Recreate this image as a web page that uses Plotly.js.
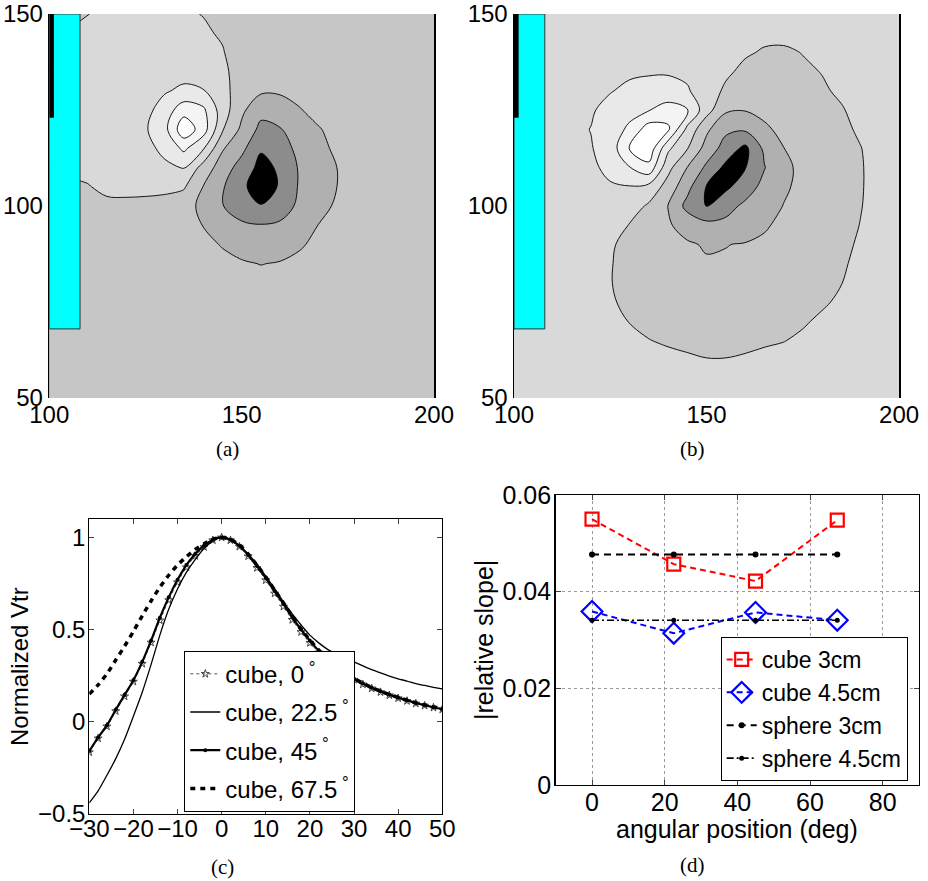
<!DOCTYPE html>
<html>
<head>
<meta charset="utf-8">
<script src="https://cdn.plot.ly/plotly-3.0.1.min.js"></script>
<style>html,body{margin:0;padding:0;background:#fff}#chart{width:928px;height:881px}</style>
</head>
<body>
<div id="chart"></div>
<script>
// ---------- Panels (a), (b): field maps on a 5-unit grid ----------
const gridX = [100,105,110,115,120,125,130,135,140,145,150,155,160,165,170,175,180,185,190,195,200];
const gridY = [50,55,60,65,70,75,80,85,90,95,100,105,110,115,120,125,130,135,140,145,150];

// level index per grid node (rows = gridY, cols = gridX)
const fieldA = [
 [0,0,0,0,0,0,0,0,0,0,0,0,0,0,0,0,0,0,0,0,0],
 [0,0,0,0,0,0,0,0,0,0,0,0,0,0,0,0,0,0,0,0,0],
 [0,0,0,0,0,0,0,0,0,0,0,0,0,0,0,0,0,0,0,0,0],
 [0,0,0,0,0,0,0,0,0,0,0,0,0,0,0,0,0,0,0,0,0],
 [0,0,0,0,0,0,0,0,0,0,0,0,0,0,0,0,0,0,0,0,0],
 [0,0,0,0,0,0,0,0,0,-0.05,-0.1,-0.1,-0.1,-0.05,0,0,0,0,0,0,0],
 [0,0,0,0,0,0,0,0,-0.05,-0.12,-0.2,-0.25,-0.2,-0.12,-0.05,0,0,0,0,0,0],
 [0,0.02,0.05,0.08,0.1,0.1,0.05,-0.05,-0.15,-0.3,-0.42,-0.52,-0.45,-0.3,-0.15,-0.05,0,0,0,0,0],
 [0.02,0.05,0.1,0.15,0.18,0.18,0.1,-0.05,-0.3,-0.55,-0.8,-0.9,-0.85,-0.6,-0.3,-0.1,-0.02,0,0,0,0],
 [0.05,0.1,0.12,0.22,0.25,0.25,0.12,-0.15,-0.52,-0.95,-1.3,-1.45,-1.35,-1.0,-0.48,-0.2,-0.05,0,0,0,0],
 [0.1,0.15,0.2,0.3,0.25,0.2,0.2,-0.1,-0.75,-1.45,-2.2,-2.45,-2.0,-1.3,-0.8,-0.35,-0.1,-0.02,0,0,0],
 [0.3,0.4,0.45,0.7,0.8,0.8,0.7,0.6,-0.52,-1.4,-2.3,-3.0,-2.4,-1.4,-0.9,-0.48,-0.15,-0.05,0,0,0],
 [0.5,0.6,0.75,0.9,1.0,1.1,1.3,1.55,0.1,-1.0,-1.9,-2.8,-2.35,-1.4,-0.9,-0.48,-0.2,-0.05,0,0,0],
 [0.55,0.65,0.8,0.95,1.1,1.2,1.75,2.7,1.6,-0.4,-1.25,-2.4,-2.0,-1.2,-0.7,-0.35,-0.15,-0.05,0,0,0],
 [0.55,0.65,0.85,0.95,1.15,1.4,2.2,4.2,3.0,0.6,-0.7,-1.75,-1.55,-1.0,-0.55,-0.25,-0.1,-0.02,0,0,0],
 [0.55,0.65,0.85,0.95,1.1,1.2,1.95,3.1,2.7,1.0,-0.3,-1.2,-1.05,-0.55,-0.25,-0.1,-0.02,0,0,0,0],
 [0.5,0.6,0.85,0.95,1.05,1.15,1.4,1.7,1.55,0.9,-0.1,-0.35,-0.35,-0.25,-0.15,-0.05,0,0,0,0,0],
 [0.5,0.6,0.8,0.9,1.0,1.05,1.1,1.15,1.05,0.7,0.1,-0.1,-0.15,-0.1,-0.05,0,0,0,0,0,0],
 [0.45,0.55,0.75,0.85,0.9,0.95,0.95,0.95,0.85,0.55,0.1,-0.05,-0.05,0,0,0,0,0,0,0,0],
 [0.4,0.52,0.65,0.75,0.8,0.85,0.8,0.75,0.6,0.42,0.05,0,0,0,0,0,0,0,0,0,0],
 [0.3,0.4,0.49,0.6,0.65,0.65,0.62,0.58,0.48,0.25,0.05,0,0,0,0,0,0,0,0,0,0]
];

const fieldB = [
 [1,1,1,1,1,1,1,1,1,1,1,1,1,1,1,1,1,1,1,1,1],
 [1,1,1,1,1,1,1,1,0.9,0.82,0.78,0.78,0.82,0.88,0.93,1,1,1,1,1,1],
 [1,1,1,1,1,1,0.95,0.85,0.7,0.6,0.52,0.52,0.58,0.68,0.8,0.9,0.95,1,1,1,1],
 [1,1,1,1,1,0.95,0.75,0.52,0.4,0.33,0.3,0.3,0.33,0.4,0.47,0.65,0.85,0.95,1,1,1],
 [1,1,1,1,0.95,0.75,0.47,0.3,0.2,0.12,0.1,0.1,0.1,0.15,0.25,0.4,0.65,0.85,0.95,1,1],
 [1,1,1,0.97,0.85,0.6,0.3,0.15,0.05,-0.05,-0.1,-0.1,-0.1,-0.05,0.05,0.2,0.38,0.65,0.88,0.97,1],
 [1,1,1,0.95,0.8,0.53,0.25,0.05,-0.1,-0.2,-0.25,-0.25,-0.25,-0.2,-0.1,0.05,0.25,0.48,0.8,0.95,1],
 [1,1,1,0.95,0.8,0.55,0.2,-0.05,-0.2,-0.35,-0.42,-0.42,-0.4,-0.32,-0.2,-0.05,0.15,0.38,0.72,0.92,0.98],
 [1,1,1,0.97,0.85,0.62,0.2,-0.1,-0.3,-0.4,-0.58,-0.52,-0.45,-0.35,-0.2,-0.05,0.1,0.32,0.6,0.88,0.97],
 [1,1,1,0.98,0.92,0.75,0.47,0.0,-0.4,-0.85,-1.2,-1.25,-1.0,-0.6,-0.3,-0.1,0.05,0.25,0.52,0.8,0.95],
 [1,1,1.05,1.1,1.2,1.25,1.0,0.35,-0.52,-1.8,-2.55,-1.85,-1.3,-0.85,-0.48,-0.2,0.0,0.2,0.47,0.78,0.95],
 [1,1.05,1.1,1.2,1.3,1.42,1.45,1.2,0.1,-1.2,-2.55,-2.7,-2.0,-1.2,-0.62,-0.3,-0.05,0.15,0.45,0.75,0.92],
 [1,1.05,1.15,1.3,1.35,1.7,2.45,3.2,0.8,-0.52,-1.7,-2.75,-2.55,-1.55,-0.7,-0.3,-0.1,0.12,0.45,0.75,0.92],
 [1,1.05,1.15,1.3,1.45,1.9,3.6,4.2,1.7,0.55,-0.9,-1.9,-2.75,-1.3,-0.52,-0.15,0.05,0.2,0.48,0.78,0.93],
 [1,1.05,1.15,1.3,1.52,1.95,2.7,4.0,3.7,1.25,-0.3,-1.3,-1.35,-0.7,-0.2,0.05,0.2,0.35,0.6,0.85,0.95],
 [1,1.05,1.1,1.25,1.4,1.8,2.15,2.45,2.9,2.55,0.9,-0.35,-0.45,-0.2,0.05,0.2,0.3,0.45,0.7,0.9,0.97],
 [1,1.02,1.05,1.15,1.3,1.45,1.7,1.85,1.9,1.6,0.95,0.35,0.1,0.1,0.2,0.3,0.42,0.6,0.85,0.95,1],
 [1,1,1.02,1.08,1.15,1.25,1.35,1.4,1.4,1.3,1.1,0.65,0.3,0.25,0.3,0.4,0.52,0.75,0.92,0.98,1],
 [1,1,1,1.03,1.07,1.1,1.12,1.15,1.15,1.1,1.05,0.9,0.6,0.42,0.4,0.52,0.7,0.9,0.98,1,1],
 [1,1,1,1,1.02,1.04,1.05,1.05,1.05,1.03,1,0.95,0.8,0.7,0.68,0.75,0.88,0.95,1,1,1],
 [1,1,1,1,1,1,1,1,1,1,1,1,0.95,0.9,0.9,0.92,0.97,1,1,1,1]
];

// coil (cyan block) and its black strip, in field coordinates
const coilX = [100, 108];
const coilY = [68, 150];
const stripX = [100, 101.2];
const stripY = [123, 150];

// ---------- Panel (c) ----------
const posC = [-30,-28,-26,-24,-22,-20,-18,-16,-14,-12,-10,-8,-6,-4,-2,0,2,4,6,8,10,12,14,16,18,20,22,24,26,28,30,32,34,36,38,40,42,44,46,48,50];
const cube0 = [-0.165,-0.09,-0.025,0.058,0.138,0.218,0.315,0.43,0.55,0.66,0.757,0.838,0.9,0.948,0.985,1.0,
  0.985,0.95,0.898,0.835,0.768,0.696,0.625,0.553,0.487,0.428,0.376,0.33,0.291,0.257,0.228,0.203,0.181,0.161,0.144,0.128,0.113,0.099,0.088,0.077,0.067];
const cube22 = [-0.44,-0.375,-0.29,-0.2,-0.095,0.03,0.16,0.31,0.47,0.61,0.72,0.81,0.88,0.94,0.98,1.0,
  0.988,0.955,0.91,0.855,0.79,0.722,0.65,0.585,0.525,0.47,0.428,0.393,0.367,0.345,0.325,0.303,0.283,0.265,0.248,0.233,0.221,0.207,0.197,0.187,0.178];
const cube45 = [-0.16,-0.085,-0.02,0.065,0.145,0.225,0.325,0.44,0.565,0.675,0.77,0.85,0.91,0.955,0.988,1.0,
  0.988,0.955,0.905,0.845,0.78,0.71,0.64,0.568,0.5,0.44,0.385,0.338,0.298,0.263,0.233,0.207,0.185,0.165,0.147,0.131,0.116,0.102,0.09,0.079,0.069];
const cube67 = [0.15,0.2,0.26,0.335,0.41,0.49,0.575,0.655,0.73,0.795,0.85,0.895,0.935,0.965,0.99,1.0,
  0.99,0.96,0.91,0.85,0.785,0.715,0.645,0.572,0.503,0.443,0.388,0.34,0.3,0.265,0.235,0.209,0.186,0.166,0.148,0.132,0.117,0.103,0.091,0.08,0.07];
const namesC = ['cube, 0', 'cube, 22.5', 'cube, 45', 'cube, 67.5'];

// ---------- Panel (d) ----------
const angles = [0, 22.5, 45, 67.5];
const cube3 = [0.0550, 0.0457, 0.0422, 0.0548];
const cube45cm = [0.0359, 0.0314, 0.0357, 0.0341];
const sphere3 = [0.0477, 0.0477, 0.0477, 0.0477];
const sphere45 = [0.0341, 0.0341, 0.0341, 0.0341];
const namesD = ['cube 3cm', 'cube 4.5cm', 'sphere 3cm', 'sphere 4.5cm'];

// ---------- styling ----------
const SANS = 'Liberation Sans, Arial, Helvetica, sans-serif';
const SERIF = 'Liberation Serif, DejaVu Serif, serif';
const grays = ['#000000','#8c8c8c','#b0b0b0','#c6c6c6','#d9d9d9','#e9e9e9','#f4f4f4','#ffffff'];
// stepwise scale: each band keeps one flat grey
const grayScale = [];
grays.forEach((c, k) => {
  grayScale.push([Math.max(0, (k - 0.25) / 7), c]);
  grayScale.push([Math.min(1, (k + 0.75) / 7), c]);
});

function fieldTrace(z, xa, ya) {
  return {
    type: 'contour', x: gridX, y: gridY, z: z, xaxis: xa, yaxis: ya,
    autocontour: false,
    contours: {start: -2.5, end: 3.5, size: 1, coloring: 'fill', showlines: true},
    line: {color: '#000', width: 0.9, smoothing: 1},
    colorscale: grayScale, showscale: false, hoverinfo: 'skip', showlegend: false
  };
}

const deg = '<sup> °</sup>';
const traces = [
  fieldTrace(fieldA, 'x', 'y'),
  fieldTrace(fieldB, 'x2', 'y2'),
  {type:'scatter', mode:'lines+markers', x: posC, y: cube0, xaxis:'x3', yaxis:'y3', name: namesC[0] + deg,
   legend:'legend', legendgroup:'g0',
   line:{color:'#555', width:1, dash:'dot', shape:'spline', smoothing:0.6},
   marker:{symbol:'star-open', size:6, color:'#444', line:{width:1}}},
  {type:'scatter', mode:'lines', x: posC, y: cube22, xaxis:'x3', yaxis:'y3', name: namesC[1] + deg,
   legend:'legend', legendgroup:'g1',
   line:{color:'#000', width:1.3, shape:'spline', smoothing:0.6}},
  {type:'scatter', mode:'lines+markers', x: posC, y: cube45, xaxis:'x3', yaxis:'y3', name: namesC[2] + deg,
   legend:'legend', legendgroup:'g2',
   line:{color:'#000', width:2.2, shape:'spline', smoothing:0.6},
   marker:{symbol:'circle', size:4, color:'#000'}},
  {type:'scatter', mode:'lines', x: posC, y: cube67, xaxis:'x3', yaxis:'y3', name: namesC[3] + deg,
   legend:'legend', legendgroup:'g3',
   line:{color:'#000', width:3.5, dash:'5px,5px', shape:'spline', smoothing:0.6}},

  {type:'scatter', mode:'lines+markers', x: angles, y: cube3, xaxis:'x4', yaxis:'y4', name: namesD[0], legend:'legend2',
   line:{color:'#ff0000', width:2, dash:'6px,4px'},
   marker:{symbol:'square-open', size:13, color:'#ff0000', line:{width:2.2}}},
  {type:'scatter', mode:'lines+markers', x: angles, y: cube45cm, xaxis:'x4', yaxis:'y4', name: namesD[1], legend:'legend2',
   line:{color:'#0000ff', width:2, dash:'6px,4px'},
   marker:{symbol:'diamond-open', size:16, color:'#0000ff', line:{width:2.2}}},
  {type:'scatter', mode:'lines+markers', x: angles, y: sphere3, xaxis:'x4', yaxis:'y4', name: namesD[2], legend:'legend2',
   line:{color:'#000', width:2, dash:'7px,5px'},
   marker:{symbol:'circle', size:6, color:'#000'}},
  {type:'scatter', mode:'lines+markers', x: angles, y: sphere45, xaxis:'x4', yaxis:'y4', name: namesD[3], legend:'legend2',
   line:{color:'#000', width:1.6, dash:'7px,3px,2px,3px'},
   marker:{symbol:'circle', size:5, color:'#000'}}
];

const tickFont = {family: SANS, size: 24, color: '#000'};
function mapX(dom, anchor) {
  return {domain: dom, anchor: anchor, range: [100, 200], tickvals: [100, 150, 200], ticks: '',
    showgrid: false, zeroline: false, showline: false, tickfont: tickFont, fixedrange: true};
}
function mapY(dom, anchor) {
  return {domain: dom, anchor: anchor, range: [50, 150], tickvals: [50, 100, 150], ticks: '',
    showgrid: false, zeroline: false, showline: true, mirror: true, linecolor: '#000', linewidth: 1.5,
    tickfont: tickFont, fixedrange: true};
}

function coilShapes(xr, yr) {
  return [
    {type:'rect', xref:xr, yref:yr, x0: coilX[0], x1: coilX[1], y0: coilY[0], y1: coilY[1],
     fillcolor:'#00ffff', line:{color:'#333', width:1}, layer:'above'},
    {type:'rect', xref:xr, yref:yr, x0: stripX[0], x1: stripX[1], y0: stripY[0], y1: stripY[1],
     fillcolor:'#000', line:{width:0}, layer:'above'}
  ];
}

const annFont = {family: SERIF, size: 21, color: '#000'};
function ann(text, px, py, font, angle) {
  return {text: text, x: px / 928, y: 1 - py / 881, xref: 'paper', yref: 'paper', showarrow: false,
    xanchor: 'center', yanchor: 'middle', textangle: angle || 0, font: font};
}
const layout = {
  width: 928, height: 881,
  margin: {l: 0, r: 0, t: 0, b: 0},
  paper_bgcolor: '#fff', plot_bgcolor: '#fff',
  font: {family: SANS, color: '#000'},
  showlegend: true,
  xaxis: mapX([0.0531, 0.4677], 'y'),
  yaxis: mapY([0.5482, 0.9841], 'x'),
  xaxis2: mapX([0.5539, 0.9688], 'y2'),
  yaxis2: mapY([0.5482, 0.9841], 'x2'),
  xaxis3: {domain: [0.0962, 0.4766], anchor: 'y3', range: [-30, 50], tickvals: [-30,-20,-10,0,10,20,30,40,50],
    ticks: 'inside', ticklen: 5, showline: true, mirror: 'ticks', linecolor: '#000', linewidth: 1,
    showgrid: false, zeroline: false, tickfont: tickFont, ticklabelstandoff: -7},
  yaxis3: {domain: [0.0761, 0.4109], anchor: 'x3', range: [-0.5, 1.1], tickvals: [-0.5, 0, 0.5, 1],
    ticks: 'inside', ticklen: 5, showline: true, mirror: 'ticks', linecolor: '#000', linewidth: 1,
    showgrid: false, zeroline: false, tickfont: tickFont, ticklabelstandoff: -2},
  xaxis4: {domain: [0.5988, 0.9903], anchor: 'y4', range: [-10, 90], tickvals: [0, 20, 40, 60, 80],
    ticks: 'inside', ticklen: 5, showline: true, mirror: 'ticks', linecolor: '#000', linewidth: 1.5,
    showgrid: true, griddash: 'dot', gridcolor: '#999', gridwidth: 1, zeroline: false,
    tickfont: {family: SANS, size: 25, color: '#000'}, ticklabelstandoff: -5},
  yaxis4: {domain: [0.1090, 0.4381], anchor: 'x4', range: [0, 0.06], tickvals: [0, 0.02, 0.04, 0.06],
    ticktext: ['0', '0.02', '0.04', '0.06'],
    ticks: 'inside', ticklen: 5, showline: true, mirror: 'ticks', linecolor: '#000', linewidth: 1.5,
    showgrid: true, griddash: 'dot', gridcolor: '#999', gridwidth: 1, zeroline: false,
    tickfont: {family: SANS, size: 25, color: '#000'}, ticklabelstandoff: -2},
  legend: {x: 0.1986, y: 0.2614, xanchor: 'left', yanchor: 'top', bgcolor: '#fff',
    bordercolor: '#000', borderwidth: 1, font: {family: SANS, size: 24, color: '#000'},
    tracegroupgap: 4, itemwidth: 30},
  legend2: {x: 0.7766, y: 1 - 781 / 881, xanchor: 'left', yanchor: 'bottom', bgcolor: '#fff',
    bordercolor: '#000', borderwidth: 1, font: {family: SANS, size: 23, color: '#000'}, itemwidth: 30},
  shapes: [].concat(coilShapes('x', 'y'), coilShapes('x2', 'y2')),
  annotations: [
    ann('(a)', 227, 449, annFont),
    ann('(b)', 692, 449, annFont),
    ann('(c)', 222, 867, annFont),
    ann('(d)', 692, 865, annFont),
    ann('Normalized Vtr', 19, 667, {family: SANS, size: 24, color: '#000'}, -90),
    ann('|relative slope|', 484, 640, {family: SANS, size: 25, color: '#000'}, -90),
    ann('angular position (deg)', 737, 829, {family: SANS, size: 25, color: '#000'})
  ]
};

Plotly.newPlot('chart', traces, layout, {staticPlot: true, displayModeBar: false});
</script>
</body>
</html>
